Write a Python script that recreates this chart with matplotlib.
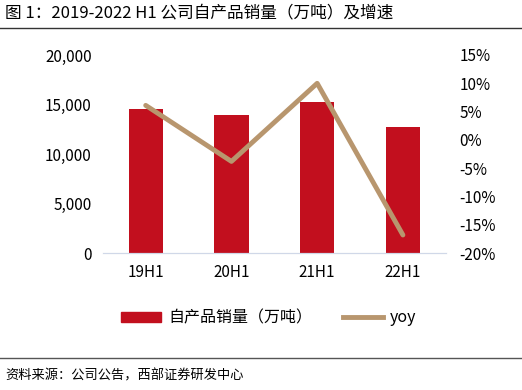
import matplotlib
matplotlib.use("Agg")
import matplotlib.pyplot as plt
import numpy as np
from matplotlib.lines import Line2D
from matplotlib.patches import Patch
from matplotlib.ticker import FuncFormatter

plt.rcParams['font.family'] = ['Noto Sans CJK SC', 'DejaVu Sans']

# data
categories = ['19H1', '20H1', '21H1', '22H1']
sales = [14500, 13900, 15300, 12700]      # 自产品销量 (万吨)
yoy = [6.1, -3.8, 10.0, -16.8]            # %

bar_color = '#C20F1E'
line_color = '#B8966E'

fig = plt.figure(figsize=(5.22, 3.9), dpi=100)
ax = fig.add_axes([0.197, 0.351, 0.657, 0.508])
ax2 = ax.twinx()

x = np.arange(len(categories))
ax.bar(x, sales, width=0.4, color=bar_color, zorder=2)
ax2.plot(x, yoy, color=line_color, linewidth=3.5, solid_capstyle='round', zorder=3)

ax.set_xlim(-0.5, len(categories) - 0.5)
ax.set_ylim(0, 20000)
ax.set_yticks(np.arange(0, 20001, 5000))
ax.yaxis.set_major_formatter(FuncFormatter(lambda v, p: f'{int(v):,}'))
ax2.set_ylim(-20, 15)
ax2.set_yticks(np.arange(-20, 16, 5))
ax2.yaxis.set_major_formatter(FuncFormatter(lambda v, p: f'{int(v)}%'))

ax.set_xticks(x)
ax.set_xticklabels(categories)

for a in (ax, ax2):
    for s in ('top', 'left', 'right'):
        a.spines[s].set_visible(False)
    a.spines['bottom'].set_color('#D0D8E8')
    a.tick_params(length=0, labelsize=11, colors='black')
ax.tick_params(axis='y', pad=8)
ax2.tick_params(axis='y', pad=10)
ax.tick_params(axis='x', pad=8)

handles = [Patch(color=bar_color), Line2D([], [], color=line_color, linewidth=3.5)]
fig.legend(handles, ['自产品销量（万吨）', 'yoy'], loc='center', ncol=2,
           bbox_to_anchor=(0.515, 0.185), frameon=False, fontsize=11.5,
           handlelength=2.5, handleheight=0.6, columnspacing=1.9, handletextpad=0.45)

# title and source with rules
fig.text(0.01, 0.968, '图 1：2019-2022 H1 公司自产品销量（万吨）及增速',
         fontsize=12, va='center', ha='left')
fig.add_artist(Line2D([0, 1], [0.928, 0.928], color='#333333', linewidth=1))
fig.add_artist(Line2D([0, 1], [0.082, 0.082], color='#555555', linewidth=1))
fig.text(0.01, 0.035, '资料来源：公司公告，西部证券研发中心', fontsize=9.5,
         va='center', ha='left')

fig.savefig('out.png', dpi=100)
